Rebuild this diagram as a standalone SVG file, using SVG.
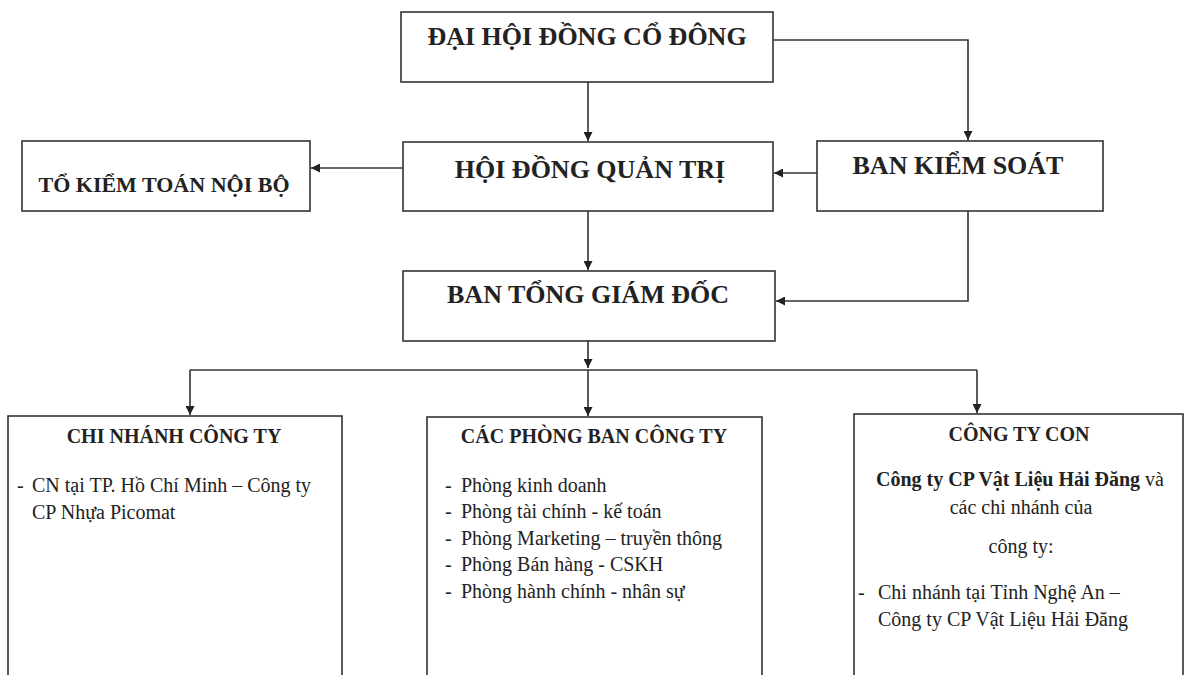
<svg xmlns="http://www.w3.org/2000/svg" width="1187" height="675" viewBox="0 0 1187 675">
<defs>
<marker id="ah" viewBox="0 0 10 10" refX="10" refY="5" markerWidth="9" markerHeight="9" markerUnits="userSpaceOnUse" orient="auto">
<path d="M0,0 L10,5 L0,10 z" fill="#222"/>
</marker>
<style>
.box{fill:#fff;stroke:#333;stroke-width:1.6}
.ln{fill:none;stroke:#333;stroke-width:1.6}
.t1{font-family:"Liberation Serif","Times New Roman",serif;font-weight:bold;font-size:26px;fill:#222;text-anchor:middle}
.t2{font-family:"Liberation Serif","Times New Roman",serif;font-weight:bold;font-size:20px;fill:#222;text-anchor:middle}
.tb{font-family:"Liberation Serif","Times New Roman",serif;font-size:20px;fill:#222}
.tc{text-anchor:middle}
</style>
</defs>
<rect width="1187" height="675" fill="#fff"/>
<g id="connectors">
<path class="ln" d="M588,82 L588,141" marker-end="url(#ah)"/>
<path class="ln" d="M773,40 L968,40 L968,140" marker-end="url(#ah)"/>
<path class="ln" d="M403,168 L311,168" marker-end="url(#ah)"/>
<path class="ln" d="M817,173 L774,173" marker-end="url(#ah)"/>
<path class="ln" d="M588,211 L588,270" marker-end="url(#ah)"/>
<path class="ln" d="M968,211 L968,301 L776,301" marker-end="url(#ah)"/>
<path class="ln" d="M588,341 L588,368" marker-end="url(#ah)"/>
<path class="ln" d="M190,370 L977,370"/>
<path class="ln" d="M190,370 L190,415" marker-end="url(#ah)"/>
<path class="ln" d="M588,370 L588,416" marker-end="url(#ah)"/>
<path class="ln" d="M977,370 L977,413" marker-end="url(#ah)"/>
</g>
<g id="dhdcd">
<rect class="box" x="401" y="12" width="372" height="70"/>
<text class="t1" x="587" y="45">ĐẠI HỘI ĐỒNG CỔ ĐÔNG</text>
</g>
<g id="hdqt">
<rect class="box" x="403" y="142" width="370" height="69"/>
<text class="t1" x="590" y="178">HỘI ĐỒNG QUẢN TRỊ</text>
</g>
<g id="tktnb">
<rect class="box" x="22" y="141" width="288" height="70"/>
<text class="t1" x="164" y="192" style="font-size:22px">TỔ KIỂM TOÁN NỘI BỘ</text>
</g>
<g id="bks">
<rect class="box" x="817" y="141" width="286" height="70"/>
<text class="t1" x="958" y="174">BAN KIỂM SOÁT</text>
</g>
<g id="btgd">
<rect class="box" x="403" y="271" width="372" height="70"/>
<text class="t1" x="588" y="303">BAN TỔNG GIÁM ĐỐC</text>
</g>
<g id="chinhanh">
<rect class="box" x="8" y="416" width="334" height="280"/>
<text class="t2" x="174" y="443">CHI NHÁNH CÔNG TY</text>
<text class="tb" x="17" y="492">-</text>
<text class="tb" x="32" y="492">CN tại TP. Hồ Chí Minh – Công ty</text>
<text class="tb" x="32" y="519">CP Nhựa Picomat</text>
</g>
<g id="phongban">
<rect class="box" x="427" y="417" width="335" height="280"/>
<text class="t2" x="594" y="443">CÁC PHÒNG BAN CÔNG TY</text>
<text class="tb" x="445" y="492">-</text>
<text class="tb" x="461" y="492">Phòng kinh doanh</text>
<text class="tb" x="445" y="518">-</text>
<text class="tb" x="461" y="518">Phòng tài chính - kế toán</text>
<text class="tb" x="445" y="545">-</text>
<text class="tb" x="461" y="545">Phòng Marketing – truyền thông</text>
<text class="tb" x="445" y="571">-</text>
<text class="tb" x="461" y="571">Phòng Bán hàng - CSKH</text>
<text class="tb" x="445" y="598">-</text>
<text class="tb" x="461" y="598">Phòng hành chính - nhân sự</text>
</g>
<g id="congtycon">
<rect class="box" x="854" y="414" width="329" height="282"/>
<text class="t2" x="1019" y="441">CÔNG TY CON</text>
<text class="tb tc" x="1020" y="486"><tspan font-weight="bold">Công ty CP Vật Liệu Hải Đăng</tspan> và</text>
<text class="tb tc" x="1021" y="514">các chi nhánh của</text>
<text class="tb tc" x="1021" y="553">công ty:</text>
<text class="tb" x="858" y="599">-</text>
<text class="tb" x="878" y="599">Chi nhánh tại Tỉnh Nghệ An –</text>
<text class="tb" x="878" y="626">Công ty CP Vật Liệu Hải Đăng</text>
</g>
</svg>
